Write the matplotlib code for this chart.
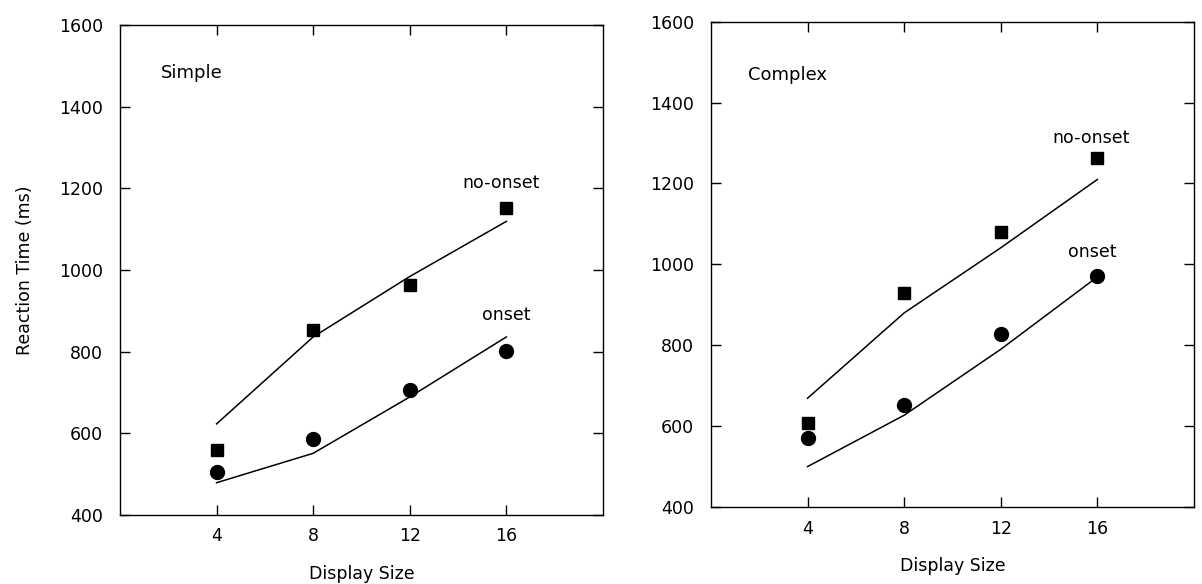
import matplotlib
matplotlib.use("Agg")
from matplotlib import pyplot as plt

display_size = [4, 8, 12, 16]

# Simple search
simple_noonset_obs = [559, 853, 962, 1153]
simple_onset_obs = [506, 586, 707, 802]
simple_noonset_fit = [623, 836, 984, 1119]
simple_onset_fit = [479, 551, 689, 836]

# Complex search
complex_noonset_obs = [607, 930, 1079, 1262]
complex_onset_obs = [570, 652, 829, 971]
complex_noonset_fit = [669, 880, 1041, 1210]
complex_onset_fit = [500, 627, 790, 969]

yticks = [400, 600, 800, 1000, 1200, 1400, 1600]
xticks = [4, 8, 12, 16]

plt.rcParams['font.family'] = ['DejaVu Sans']

fig = plt.figure(figsize=(12.02, 5.84), dpi=100)
ax1 = fig.add_axes([0.0998, 0.1182, 0.4018, 0.839])
ax2 = fig.add_axes([0.5915, 0.1318, 0.4018, 0.831])

panels = [
    (ax1, simple_noonset_obs, simple_onset_obs, simple_noonset_fit, simple_onset_fit,
     'Simple', (1.7, 1483), (14.2, 1213), (15.0, 890)),
    (ax2, complex_noonset_obs, complex_onset_obs, complex_noonset_fit, complex_onset_fit,
     'Complex', (1.55, 1468), (14.15, 1312), (14.8, 1031)),
]

for ax, no_obs, on_obs, no_fit, on_fit, title, tpos, npos, opos in panels:
    ax.plot(display_size, no_fit, color='black', lw=1.1)
    ax.plot(display_size, on_fit, color='black', lw=1.1)
    ax.plot(display_size, no_obs, 's', color='black', ms=8)
    ax.plot(display_size, on_obs, 'o', color='black', ms=10)
    ax.set_xlim(0, 20)
    ax.set_ylim(400, 1600)
    ax.set_xticks(xticks)
    ax.set_yticks(yticks)
    ax.tick_params(direction='in', top=True, right=True, length=7, width=1,
                   labelsize=12.5)
    ax.tick_params(axis='y', pad=12)
    ax.tick_params(axis='x', pad=9)
    for s in ax.spines.values():
        s.set_linewidth(1)
    ax.text(tpos[0], tpos[1], title, fontsize=13, va='center', ha='left')
    ax.text(npos[0], npos[1], 'no-onset', fontsize=12.5, va='center', ha='left')
    ax.text(opos[0], opos[1], 'onset', fontsize=12.5, va='center', ha='left')
    ax.set_xlabel('Display Size', fontsize=12.5, labelpad=14)

ax1.set_ylabel('Reaction Time (ms)', fontsize=12.5, labelpad=18)

plt.savefig("out.png", dpi=100)
